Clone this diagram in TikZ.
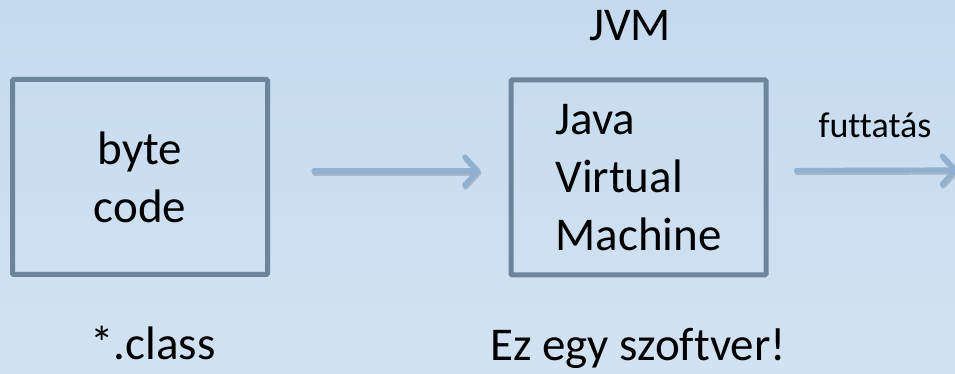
\documentclass[tikz,border=0pt]{standalone}
\usepackage{fontspec}
\setmainfont{Carlito}[Ligatures=NoCommon]
\usetikzlibrary{arrows.meta,positioning}

\definecolor{bgtop}{RGB}{197,218,239}
\definecolor{bgbot}{RGB}{210,226,242}
\definecolor{boxline}{RGB}{108,133,155}
\definecolor{flowblue}{RGB}{143,176,208}

\tikzset{
  bigfont/.style={font=\fontsize{23.5}{29}\selectfont},
  codebox/.style={draw=boxline, line width=2.5pt, rounded corners=0.6pt,
    minimum width=127.5pt, minimum height=97.5pt, bigfont},
  flow/.style={draw=flowblue, line width=2.6pt, line cap=round,
    -{Straight Barb[length=6.5pt,width=14pt,round]}},
  flowshadow/.style={flow, draw=black!60!flowblue, opacity=0.25,
    transform canvas={xshift=0.4pt,yshift=-1pt}},
  caption/.style={bigfont, anchor=base, inner sep=0pt},
}

\begin{document}
\begin{tikzpicture}[x=0.5pt,y=-0.5pt]
  % Background
  \shade[top color=bgtop, bottom color=bgbot] (0,0) rectangle (955,374);
  \useasboundingbox (0,0) rectangle (955,374);
  \clip (0,0) rectangle (955,374);

  % Boxes
  \node[codebox, align=center] (bytecode) at (140,177) {byte\\code};
  \node[codebox, align=left] (jvm) at (638.5,177.5) {Java\\Virtual\\Machine};

  % Labels
  \node[caption] (jvmlabel) at (630,41) {JVM};
  \node[caption] (classlabel) at (153,360) {*.class};
  \node[caption] (softlabel) at (638,361) {Ez egy szoftver!};
  \node[caption, font=\fontsize{18}{22}\selectfont] (runlabel) at (875,138) {futtatás};
  \coordinate (runout) at (958,170);

  % Arrows
  \draw[flowshadow] ([xshift=22pt,yshift=3pt]bytecode.east) -- ([xshift=-14pt,yshift=3.25pt]jvm.west);
  \draw[flow] ([xshift=22pt,yshift=3pt]bytecode.east) -- ([xshift=-14pt,yshift=3.25pt]jvm.west);
  \draw[flowshadow] ([xshift=14pt,yshift=3.5pt]jvm.east) -- (runout);
  \draw[flow] ([xshift=14pt,yshift=3.5pt]jvm.east) -- (runout);
\end{tikzpicture}
\end{document}
